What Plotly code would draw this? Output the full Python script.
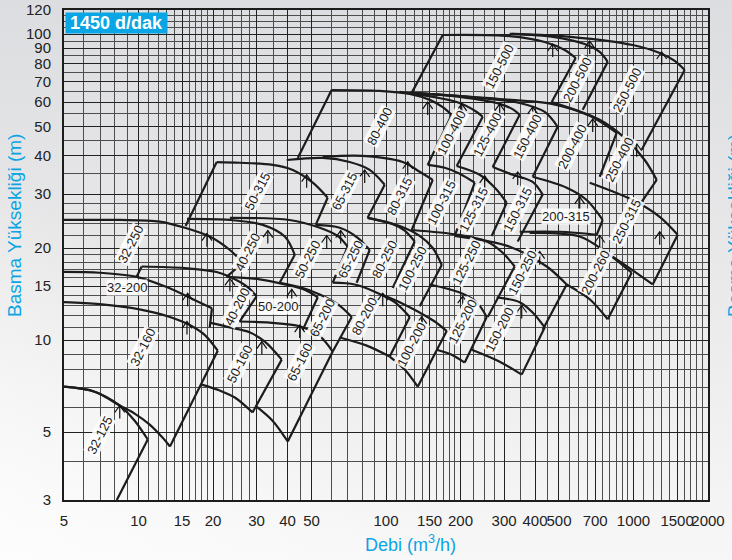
import base64
import numpy as np
import plotly.graph_objects as go

# ---------------- data (Q in m3/h, H in m) ----------------
NAMES = ["32-125", "32-160", "50-160", "65-160",
         "32-200", "40-200", "50-200", "65-200", "80-200", "100-200", "125-200", "150-200",
         "32-250", "40-250", "50-250", "65-250", "80-250", "100-250", "125-250", "150-250", "200-260",
         "50-315", "65-315", "80-315", "100-315", "125-315", "150-315", "200-315", "250-315",
         "80-400", "100-400", "125-400", "150-400", "200-400", "250-400",
         "150-500", "200-500", "250-500"]

TOP_Q = [
    [5.0, 6.65, 8.40, 9.65, 10.9],
    [5.0, 6.97, 10.1, 13.4, 16.1, 18.5, 20.9],
    [19.4, 23.4, 28.1, 32.4, 37.9],
    [25.6, 33.9, 44.8, 54.0, 60.9],
    [5.0, 6.97, 9.83, 13.0, 16.6, 19.8],
    [10.3, 15.4, 20.7, 23.4, 27.6, 30.0],
    [22.7, 30.9, 39.0, 46.9, 53.0],
    [37.2, 44.8, 54.0, 63.8, 72.7],
    [60.9, 74.7, 90.0, 108.4, 124.7],
    [96.1, 113.6, 136.8, 157.4, 175.9],
    [150.2, 198.6, 232.6, 255.3],
    [280.1, 346.9, 391.4, 437.7],
    [5.0, 8.40, 12.2, 15.4, 19.4, 23.4, 26.4],
    [15.7, 23.4, 31.8, 39.0, 42.8],
    [23.4, 40.8, 54.0, 63.8, 70.0],
    [52.0, 65.0, 76.9, 85.9],
    [84.3, 105.4, 119.0, 130.6],
    [84.3, 113.6, 136.8, 154.5, 168.0],
    [127.0, 194.9, 255.3, 296.1, 331.1],
    [189.5, 316.1, 446.0, 537.1],
    [380.6, 606.2, 779.3, 983.3],
    [20.7, 25.6, 34.8, 42.0, 50.6, 58.1],
    [39.7, 55.5, 71.3, 85.9, 98.8],
    [55.5, 80.5, 116.8, 136.8, 154.5],
    [147.4, 172.7, 198.6, 228.3],
    [193.1, 239.2, 280.1, 307.4],
    [269.9, 325.0, 391.4, 429.6],
    [391.4, 537.1, 647.0, 750.9],
    [665.3, 992.6, 1276, 1509],
    [60.3, 94.3, 124.7, 150.2, 169.5, 184.3],
    [113.6, 193.1, 232.6, 245.9],
    [124.7, 198.6, 288.0, 328.1, 346.9],
    [127.0, 217.9, 346.9, 437.7, 494.0],
    [127.0, 288.0, 467.2, 665.3, 855.2],
    [467.2, 730.2, 921.3, 1110, 1241],
    [169.5, 316.1, 437.7, 527.2, 584.1],
    [316.1, 480.4, 635.0, 730.2, 786.7],
    [322.0, 568.0, 992.6, 1276, 1467, 1610],
]
TOP_H = [
    [7.04, 6.78, 6.11, 5.45, 4.73],
    [13.3, 13.1, 12.6, 11.9, 11.2, 10.4, 9.23],
    [11.4, 11.0, 10.6, 9.88, 8.63],
    [11.5, 11.4, 11.1, 10.3, 9.17],
    [16.7, 16.6, 16.1, 14.9, 13.6, 12.7],
    [17.4, 17.2, 16.7, 16.1, 14.9, 13.9],
    [16.1, 15.8, 15.2, 14.6, 13.8],
    [15.4, 14.9, 14.1, 13.1, 11.9],
    [15.4, 15.2, 14.4, 13.3, 11.9],
    [14.1, 13.3, 12.3, 11.5, 10.7],
    [15.2, 14.3, 13.3, 11.9],
    [13.8, 13.3, 12.3, 11.0],
    [24.7, 24.7, 24.4, 23.3, 21.8, 19.7, 17.9],
    [24.9, 24.7, 23.8, 21.8, 19.0],
    [25.1, 24.7, 23.3, 21.9, 20.2],
    [23.8, 23.3, 21.6, 19.7],
    [25.1, 24.0, 22.8, 21.0],
    [25.1, 23.6, 21.9, 20.0, 17.6],
    [22.9, 22.1, 21.0, 19.3, 17.4],
    [21.9, 20.2, 17.4, 15.2],
    [22.4, 21.8, 19.3, 16.6],
    [38.2, 38.0, 37.4, 36.0, 32.7, 29.2],
    [38.8, 39.4, 38.2, 36.0, 32.2],
    [39.7, 40.0, 38.2, 35.5, 33.4],
    [37.4, 36.6, 35.0, 32.7],
    [37.1, 34.7, 31.0, 28.1],
    [36.8, 34.7, 32.9, 29.9],
    [34.2, 31.5, 28.7, 24.7],
    [32.7, 28.7, 25.3, 22.1],
    [65.7, 65.3, 63.8, 61.0, 57.8, 54.5],
    [64.8, 60.0, 55.7, 53.7],
    [64.3, 62.4, 59.2, 56.6, 54.5],
    [64.3, 62.4, 59.6, 55.7, 49.8],
    [64.3, 61.4, 59.2, 54.1, 47.6],
    [60.0, 52.5, 45.8, 38.8, 33.4],
    [99.4, 98.6, 94.3, 88.8, 83.6],
    [100.2, 97.9, 92.9, 87.5, 81.2],
    [100.2, 97.9, 92.2, 86.8, 81.8, 76.4],
]
BOT_Q = [
    [8.17],
    [5.0, 6.65, 8.40, 9.65, 11.1, 12.5, 13.4],
    [18.0, 21.3, 24.5, 28.9],
    [30.0, 34.8, 40.1],
    [19.4],
    [9.83, 25.6],
    [46.1],
    [60.9],
    [65.0, 83.6, 103.5],
    [103.5, 119.0, 134.3],
    [160.3, 184.3, 208.0],
    [222.0, 288.0, 353.4],
    [22.7],
    [37.2],
    [60.9],
    [76.1],
    [106.4],
    [136.8],
    [257.6],
    [429.6],
    [537.1, 665.3, 786.7],
    [15.5, 52.0],
    [84.3],
    [127.0],
    [189.5],
    [267.4],
    [340.5],
    [346.9, 503.3, 710.1],
    [779.3, 983.3, 1196],
    [44.0, 147.4],
    [193.1],
    [269.9],
    [391.4],
    [730.2],
    [1079],
    [127.0, 467.2],
    [623.4],
    [1079],
]
BOT_H = [
    [3.0],
    [7.04, 6.78, 6.11, 5.75, 5.29, 4.80, 4.49],
    [7.15, 6.84, 6.49, 5.80],
    [6.06, 5.45, 4.66],
    [11.0],
    [16.1, 11.5],
    [10.8],
    [9.17],
    [10.2, 9.59, 8.83],
    [8.83, 8.01, 7.04],
    [9.30, 8.96, 8.44],
    [9.30, 8.50, 7.71],
    [16.1],
    [15.4],
    [15.4],
    [15.4],
    [14.8],
    [12.9],
    [11.9],
    [10.8],
    [15.2, 13.6, 11.7],
    [23.6, 23.8],
    [25.1],
    [22.9],
    [21.9],
    [21.9],
    [21.0],
    [22.6, 22.6, 22.1],
    [19.3, 17.0, 15.2],
    [39.4, 37.4],
    [37.1],
    [36.8],
    [34.2],
    [34.2],
    [28.3],
    [64.3, 60.0],
    [56.6],
    [41.9],
]
EDGES = ["TR", "TRB", "TRB", "TRB",
         "TR", "TRL", "TR", "TR", "TRB", "TRB", "TRB", "TRB",
         "TR", "TR", "TR", "TR", "TR", "TR", "TR", "TR", "TRB",
         "TRL", "TR", "TR", "TR", "TR", "TR", "TRB", "TRB",
         "TRL", "TR", "TR", "TR", "TR", "TR",
         "TRL", "TR", "TR"]

LABEL_Q = [6.97, 10.4, 25.6, 44.8,
           8.96, 24.9, 36.5, 55.0, 82.0, 127.0, 204.2, 288.0,
           9.30, 27.6, 48.3, 72.0, 98.8, 128.2, 211.9, 356.7, 703.6,
           30.3, 68.1, 113.6, 168.0, 226.2, 340.5, 532.2, 938.5,
           94.3, 184.3, 257.6, 373.6, 568.0, 879.5,
           288.0, 595.1, 938.5]
LABEL_H = [4.87, 9.45, 8.31, 8.44,
           14.9, 12.8, 12.9, 11.8, 11.9, 9.66, 11.5, 10.8,
           20.5, 19.3, 18.3, 18.3, 18.3, 17.1, 17.9, 16.6, 16.6,
           30.5, 30.5, 29.4, 28.1, 26.7, 26.7, 25.3, 24.4,
           49.8, 47.6, 46.9, 46.2, 42.8, 38.8,
           78.2, 70.9, 65.7]
HORIZONTAL_LABELS = ["32-200", "50-200", "200-315"]

# best-efficiency markers (arrow centres)
ARROW_Q = [8.40, 15.7, 15.8, 18.9, 23.4, 33.3, 31.5, 41.6, 57.6, 47.8, 44.8, 65.6, 82.0,
           97.0, 122.4, 147.4, 139.4, 202.3, 204.2, 250.5, 288.0, 353.4, 417.8, 340.5,
           391.4, 471.6, 730.2, 606.2, 684.2, 665.3, 1276, 1030, 1300]
ARROW_H = [5.84, 11.0, 13.6, 21.3, 15.2, 21.8, 9.45, 14.0, 21.0, 33.2, 10.7, 21.8, 34.4,
           13.6, 36.6, 57.4, 11.4, 56.6, 13.3, 32.9, 56.6, 12.4, 18.6, 33.9,
           55.3, 88.8, 21.0, 28.1, 50.5, 90.8, 21.6, 41.9, 83.6]

X_TICKS = [5, 10, 15, 20, 30, 40, 50, 100, 150, 200, 300, 400, 500, 700, 1000, 1500, 2000]
Y_TICKS = [3, 5, 10, 15, 20, 30, 40, 50, 60, 70, 80, 90, 100, 120]
X_GRID = (list(range(5, 21)) + [22, 24, 26, 28, 30, 35, 40, 45, 50]
          + list(range(60, 201, 10)) + [225, 250, 275, 300]
          + list(range(350, 1001, 50)) + list(range(1100, 2001, 100)))
Y_GRID = list(range(3, 21)) + [22, 24, 26, 28, 30] + list(range(35, 121, 5))

CYAN = "#0aa5e4"
INK = "#1c1c1c"
FONT = "Liberation Sans, Arial, sans-serif"

# ---------------- figure ----------------
W, H = 732, 560
ML, MR, MT, MB = 64, 24, 10, 60
PW, PH = W - ML - MR, H - MT - MB
DX = np.log10(2000 / 5) / PW      # decades per pixel (x)
DY = np.log10(120 / 3) / PH       # decades per pixel (y)

cx, cy, ex, ey = [], [], [], []
for i in range(len(NAMES)):
    tq, th, bq, bh, fl = TOP_Q[i], TOP_H[i], BOT_Q[i], BOT_H[i], EDGES[i]
    if "T" in fl:
        cx += tq + [None]; cy += th + [None]
    if "B" in fl and len(bq) > 1:
        cx += bq + [None]; cy += bh + [None]
    if "R" in fl:
        ex += [tq[-1], bq[-1], None]; ey += [th[-1], bh[-1], None]
    if "L" in fl:
        ex += [tq[0], bq[0], None]; ey += [th[0], bh[0], None]

# open arrow glyphs built around each marker point
ax_, ay_ = [], []
for q, h in zip(ARROW_Q, ARROW_H):
    lq, lh = np.log10(q), np.log10(h)
    tip = (lq, lh + 6 * DY)
    for px, py in [(lq - 5 * DX, lh - 1 * DY), tip, (lq + 5 * DX, lh - 1 * DY)]:
        ax_.append(10 ** px); ay_.append(10 ** py)
    ax_.append(None); ay_.append(None)
    ax_ += [10 ** tip[0], 10 ** lq, None]; ay_ += [10 ** tip[1], 10 ** (lh - 7 * DY), None]

fig = go.Figure()
fig.add_trace(go.Scatter(x=cx, y=cy, mode="lines", line=dict(color=INK, width=2.2, shape="spline", smoothing=0.9),
                         hoverinfo="skip", showlegend=False, connectgaps=False))
fig.add_trace(go.Scatter(x=ex, y=ey, mode="lines", line=dict(color=INK, width=2.2),
                         hoverinfo="skip", showlegend=False, connectgaps=False))
fig.add_trace(go.Scatter(x=ax_, y=ay_, mode="lines", line=dict(color="#111111", width=1.2),
                         hoverinfo="skip", showlegend=False, connectgaps=False))

ann = []
for n, q, h in zip(NAMES, LABEL_Q, LABEL_H):
    ann.append(dict(x=np.log10(q), y=np.log10(h), xref="x", yref="y", text=n, showarrow=False,
                    textangle=0 if n in HORIZONTAL_LABELS else -63,
                    font=dict(family=FONT, size=13, color=INK),
                    bgcolor="rgba(255,255,255,0.88)", borderpad=0, xanchor="center", yanchor="middle"))

ann.append(dict(xref="paper", yref="paper", x=1 / PW, y=1 - 2 / PH, xanchor="left", yanchor="top",
                text="<b>1450 d/dak</b>", showarrow=False, bgcolor=CYAN, width=101, height=20,
                font=dict(family=FONT, size=18, color="white"), borderpad=0))
ann.append(dict(xref="paper", yref="paper", x=(15 - ML) / PW, y=(MT + PH - 226) / PH,
                text="Basma Yüksekliği (m)", textangle=-90, showarrow=False,
                font=dict(family=FONT, size=19, color=CYAN), xanchor="center", yanchor="middle"))
ann.append(dict(xref="paper", yref="paper", x=(735 - ML) / PW, y=(MT + PH - 226) / PH,
                text="Basma Yüksekliği (m)", textangle=-90, showarrow=False,
                font=dict(family=FONT, size=19, color=CYAN), xanchor="center", yanchor="middle"))
ann.append(dict(xref="paper", yref="paper", x=(410 - ML) / PW, y=(MT + PH - 543) / PH,
                text="Debi (m<sup>3</sup>/h)", showarrow=False,
                font=dict(family=FONT, size=18, color=CYAN), xanchor="center", yanchor="middle"))

svg = ('<svg xmlns="http://www.w3.org/2000/svg" width="732" height="560">'
       '<defs><linearGradient id="g" x1="0" y1="0" x2="0" y2="1">'
       '<stop offset="0" stop-color="#dcdde0"/><stop offset="0.45" stop-color="#e8e8e9"/>'
       '<stop offset="1" stop-color="#f7f7f7"/></linearGradient>'
       '<linearGradient id="s" x1="0" y1="1" x2="1" y2="0">'
       '<stop offset="0" stop-color="#ffffff" stop-opacity="0.75"/>'
       '<stop offset="0.35" stop-color="#ffffff" stop-opacity="0.0"/></linearGradient></defs>'
       '<rect width="732" height="560" fill="url(#g)"/>'
       '<rect width="732" height="560" fill="url(#s)"/></svg>')
bg = "data:image/svg+xml;base64," + base64.b64encode(svg.encode()).decode()

axis_common = dict(type="log", showline=True, linecolor=INK, linewidth=2, mirror=True, automargin=False,
                   ticks="", showgrid=True, gridcolor="#222222", gridwidth=1, zeroline=False,
                   tickfont=dict(family=FONT, size=15, color="#222222"), tickmode="array", tickangle=0)

fig.update_layout(
    width=W, height=H, margin=dict(l=ML, r=MR, t=MT, b=MB, autoexpand=False),
    paper_bgcolor="#ededee", plot_bgcolor="rgba(0,0,0,0)",
    xaxis=dict(range=[np.log10(5), np.log10(2000)], tickvals=X_TICKS, ticktext=[str(v) for v in X_TICKS],
               ticklabelstandoff=6,
               minor=dict(tickmode="array", tickvals=X_GRID, showgrid=True, gridcolor="#4d4d4d", gridwidth=1),
               **axis_common),
    yaxis=dict(range=[np.log10(3), np.log10(120)], tickvals=Y_TICKS, ticktext=[str(v) for v in Y_TICKS],
               ticklabelstandoff=8,
               minor=dict(tickmode="array", tickvals=Y_GRID, showgrid=True, gridcolor="#4d4d4d", gridwidth=1),
               **axis_common),
    annotations=ann,
    images=[dict(source=bg, xref="paper", yref="paper", x=-ML / PW, y=1 + MT / PH,
                 sizex=W / PW, sizey=H / PH, sizing="stretch", layer="below", xanchor="left", yanchor="top")],
)

fig.write_html("out.html", config={"displayModeBar": False},
               post_script="document.body.style.margin='0px';")
